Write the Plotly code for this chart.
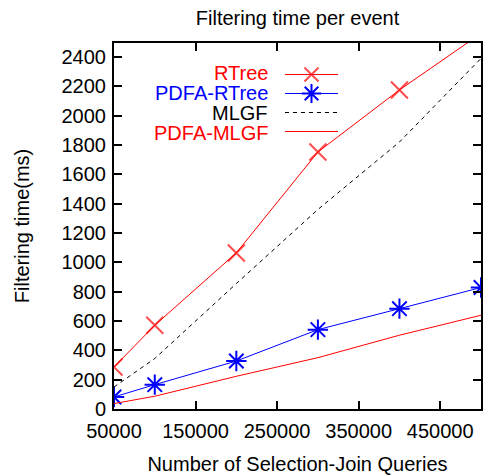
import plotly.graph_objects as go

queries = [50000, 100000, 200000, 300000, 400000, 500000]
rtree = [286, 571, 1064, 1752, 2175, 2560]
pdfa_rtree = [82, 166, 327, 541, 684, 828]
mlgf = [150, 344, 855, 1360, 1820, 2390]
pdfa_mlgf = [37, 87, 223, 350, 503, 639]

x_ticks = [50000, 150000, 250000, 350000, 450000]
y_ticks = list(range(0, 2401, 200))

names = ["RTree", "PDFA-RTree", "MLGF", "PDFA-MLGF"]
colors = ["#ff0000", "#0000ff", "#000000", "#ff0000"]

FONT = "Liberation Sans, Arial, sans-serif"
FS = 20

# page has an 8px body margin; build the figure so the plot area lands where the reference has it
OX, OY = 8, 8
W, H = 499 - OX, 475 - OY
PL, PR, PT, PB = 114 - OX, 481 - OX, 43 - OY, 409 - OY  # plot box in figure pixels

fig = go.Figure()
fig.add_trace(go.Scatter(
    x=queries, y=rtree, name=names[0], mode="lines+markers",
    line=dict(color=colors[0], width=1),
    marker=dict(symbol="x-thin-open", size=[17, 17, 17, 17, 17, 0],
                color=colors[0], line=dict(color=colors[0], width=2)),
))
fig.add_trace(go.Scatter(
    x=queries, y=pdfa_rtree, name=names[1], mode="lines+markers",
    line=dict(color=colors[1], width=1),
    marker=dict(symbol="asterisk-open", size=17,
                color=colors[1], line=dict(color=colors[1], width=2)),
))
fig.add_trace(go.Scatter(
    x=queries, y=mlgf, name=names[2], mode="lines",
    line=dict(color=colors[2], width=1, dash="4px,4px"),
))
fig.add_trace(go.Scatter(
    x=queries, y=pdfa_mlgf, name=names[3], mode="lines",
    line=dict(color=colors[3], width=1),
))

# legend labels (text to the left of the sample, gnuplot style)
for i, (n, c) in enumerate(zip(names, colors)):
    fig.add_annotation(
        text=n, xref="paper", yref="paper",
        x=(270 - OX - PL) / (PR - PL), y=(PB - (73 - OY + 20 * i)) / (PB - PT),
        xanchor="right", yanchor="middle", showarrow=False,
        font=dict(family=FONT, size=FS, color=c),
    )

axis_common = dict(
    showline=True, linecolor="black", linewidth=2, mirror="ticks",
    ticks="inside", ticklen=8, tickwidth=2, tickcolor="black",
    showgrid=False, zeroline=False,
    tickfont=dict(family=FONT, size=FS, color="black"),
)

fig.update_layout(
    width=W, height=H,
    margin=dict(l=PL, r=W - PR, t=PT, b=H - PB, autoexpand=False),
    paper_bgcolor="white", plot_bgcolor="white",
    title=dict(text="Filtering time per event", x=(PL + PR) / 2 / W, xanchor="center",
               y=1 - (18 - OY) / H, yanchor="middle",
               font=dict(family=FONT, size=FS, color="black")),
    xaxis=dict(range=[50000, 500000], tickvals=x_ticks,
               ticktext=[str(v) for v in x_ticks], ticklabelstandoff=3,
               title=dict(text="Number of Selection-Join Queries",
                          font=dict(family=FONT, size=FS, color="black"), standoff=16),
               automargin=False, **axis_common),
    yaxis=dict(range=[0, 2495], tickvals=y_ticks,
               ticktext=[str(v) for v in y_ticks], ticklabelstandoff=2,
               title=dict(text="Filtering time(ms)",
                          font=dict(family=FONT, size=FS, color="black"), standoff=27),
               automargin=False, **axis_common),
    legend=dict(x=(280 - OX - PL) / (PR - PL), y=(PB - (60 - OY)) / (PB - PT),
                xanchor="left", yanchor="top", bgcolor="rgba(0,0,0,0)",
                font=dict(family=FONT, size=12, color="rgba(0,0,0,0)"),
                itemwidth=53, tracegroupgap=0),
    showlegend=True,
)

fig.write_html("out.html")
